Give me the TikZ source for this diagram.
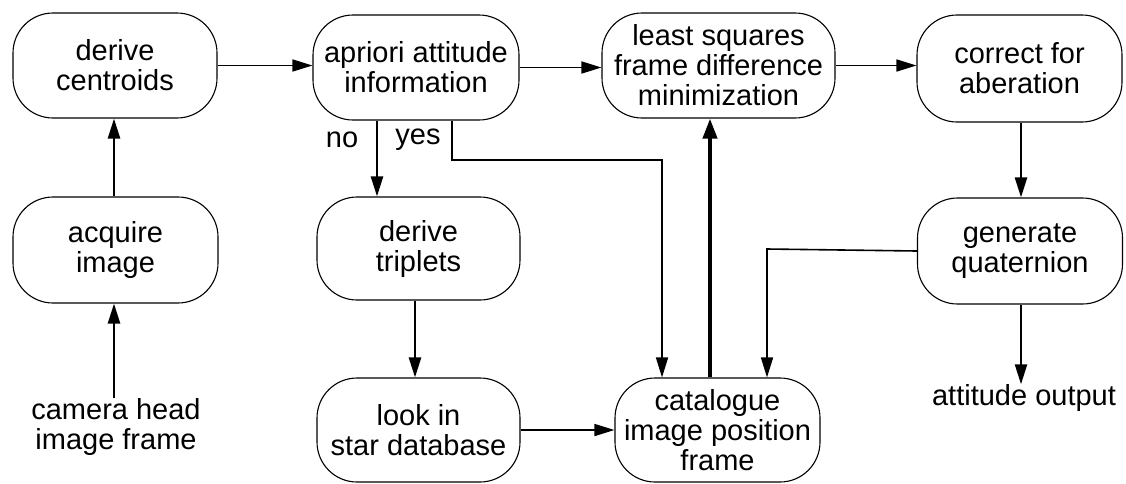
\documentclass[tikz,border=0pt]{standalone}
\usepackage{fontspec}
\setmainfont{Liberation Sans}
\usetikzlibrary{arrows.meta,calc}
\begin{document}
\begin{tikzpicture}[x=1pt,y=-1pt,
  box/.style={draw,line width=1.1pt,rounded corners=40pt,inner sep=0pt,align=center,
    font=\fontsize{29}{30}\selectfont},
  lbl/.style={inner sep=0pt,align=center,font=\fontsize{29}{30}\selectfont},
  arr/.style={line width=1.6pt,-{Triangle[length=20pt,width=12pt]}},
  varr/.style={line width=2.4pt,-{Triangle[length=20pt,width=12pt]}}]
\useasboundingbox (0,0) rectangle (1126,483);
\node[box,minimum width=204pt,minimum height=105pt] (B1) at (115,65.5) {derive\\centroids};
\node[box,minimum width=206pt,minimum height=105pt] (B2) at (416,67.5) {apriori attitude\\information};
\node[box,minimum width=233pt,minimum height=105pt] (B3) at (718.5,65.5) {least squares\\frame difference\\minimization};
\node[box,minimum width=205pt,minimum height=107pt] (B4) at (1019.5,68.5) {correct for\\aberation};
\node[box,minimum width=205pt,minimum height=106pt] (B5) at (115.5,250) {acquire\\image};
\node[box,minimum width=203pt,minimum height=103pt] (B6) at (418.5,248.5) {derive\\triplets};
\node[box,minimum width=203pt,minimum height=104pt] (B7) at (418.5,430) {look in\\star database};
\node[box,minimum width=205pt,minimum height=104pt] (B8) at (717.5,430) {catalogue\\image position\\frame};
\node[box,minimum width=205pt,minimum height=106pt] (B9) at (1020,251) {generate\\quaternion};
\node[lbl] (cam) at (116,427) {camera head\\image frame};
\node[lbl] (out) at (1024,398) {attitude output};
\node[lbl] (no) at (342,140) {no};
\node[lbl] (yes) at (418,140) {yes};
\coordinate (xcam) at (114,0);
\coordinate (xno) at (377,0);
\coordinate (yesturn) at (452,160);
\coordinate (yescorner) at (662,160);
\coordinate (xtrip) at (415,0);
\coordinate (xcat) at (710,0);
\coordinate (qturn) at (767,249);
\coordinate (xab) at (1021,0);
\draw[arr] (B1.east) -- (B1.east -| B2.west);
\draw[arr] (B2.east) -- (B2.east -| B3.west);
\draw[arr] (B3.east) -- (B3.east -| B4.west);
\draw[varr] (B5.north -| xcam) -- (B1.south -| xcam);
\draw[varr] (cam.north -| xcam) -- (B5.south -| xcam);
\draw[varr] (B2.south -| xno) -- (B6.north -| xno);
\draw[arr] (B2.south -| yesturn) -- (yesturn) -- (yescorner) -- (B8.north -| yescorner);
\draw[varr] (B6.south -| xtrip) -- (B7.north -| xtrip);
\draw[arr] (B7.east) -- (B8.west);
\draw[line width=4pt,-{Triangle[length=20pt,width=14pt]}] (B8.north -| xcat) -- (B3.south -| xcat);
\draw[arr] (B9.west) -- (qturn) -- (B8.north -| qturn);
\draw[varr] (B4.south -| xab) -- (B9.north -| xab);
\draw[varr] (B9.south -| xab) -- (out.north -| xab);
\end{tikzpicture}
\end{document}
